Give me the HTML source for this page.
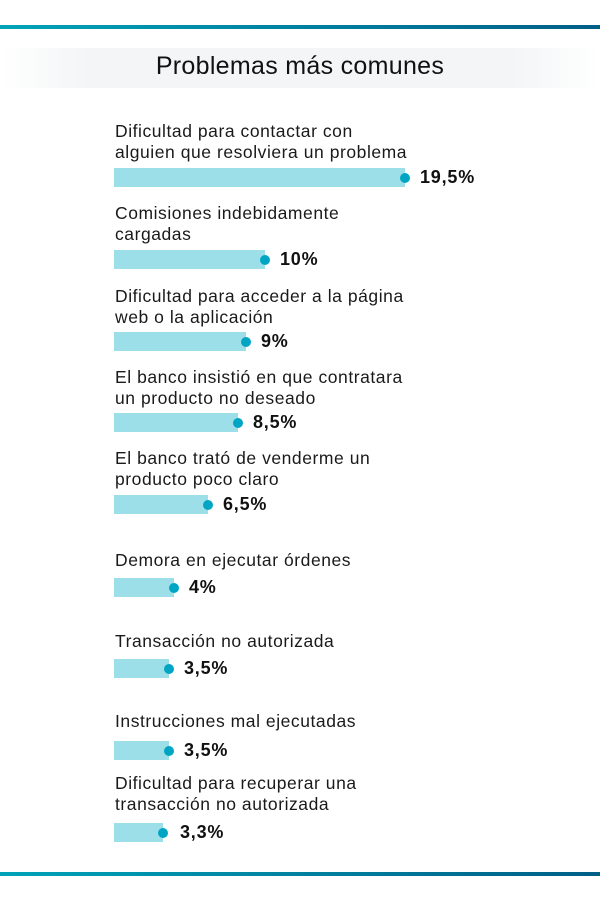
<!DOCTYPE html>
<html><head><meta charset="utf-8"><style>
body{margin:0;width:600px;height:901px;background:#fff;position:relative;overflow:hidden;font-family:"Liberation Sans",sans-serif;color:#111}
.line{position:absolute;left:0;width:600px;height:4px;background:linear-gradient(90deg,#00a3b8,#005f87)}
.band{position:absolute;left:0;top:48px;width:600px;height:40px;background:linear-gradient(90deg,#fff,#f3f5f6 15%,#f3f5f6 85%,#fff)}
.title{position:absolute;top:52px;width:600px;text-align:center;font-size:25px;color:#111;letter-spacing:0.3px}
.t{position:absolute;left:115px;font-size:17.5px;line-height:21px;color:#1a1a1a;white-space:nowrap;letter-spacing:0.55px}
.bar{position:absolute;left:114px;height:19px;background:#9ddfe9}
.dot{position:absolute;width:10px;height:10px;border-radius:50%;background:#00a5c4}
.v{position:absolute;font-weight:bold;font-size:18px;color:#111;letter-spacing:0.8px}
</style></head><body>
<div class="line" style="top:25px"></div>
<div class="line" style="top:872px"></div>
<div class="band"></div>
<div class="title">Problemas más comunes</div>

<div class="t" style="top:121px">Dificultad para contactar con<br>alguien que resolviera un problema</div>
<div class="bar" style="top:168px;width:291px"></div><div class="dot" style="left:400px;top:173px"></div><div class="v" style="left:420px;top:167px">19,5%</div>

<div class="t" style="top:203px">Comisiones indebidamente<br>cargadas</div>
<div class="bar" style="top:250px;width:151px"></div><div class="dot" style="left:260px;top:255px"></div><div class="v" style="left:280px;top:249px">10%</div>

<div class="t" style="top:286px">Dificultad para acceder a la página<br>web o la aplicación</div>
<div class="bar" style="top:332px;width:132px"></div><div class="dot" style="left:241px;top:337px"></div><div class="v" style="left:261px;top:331px">9%</div>

<div class="t" style="top:367px">El banco insistió en que contratara<br>un producto no deseado</div>
<div class="bar" style="top:413px;width:124px"></div><div class="dot" style="left:233px;top:418px"></div><div class="v" style="left:253px;top:412px">8,5%</div>

<div class="t" style="top:448px">El banco trató de venderme un<br>producto poco claro</div>
<div class="bar" style="top:495px;width:94px"></div><div class="dot" style="left:203px;top:500px"></div><div class="v" style="left:223px;top:494px">6,5%</div>

<div class="t" style="top:550px">Demora en ejecutar órdenes</div>
<div class="bar" style="top:578px;width:60px"></div><div class="dot" style="left:169px;top:583px"></div><div class="v" style="left:189px;top:577px">4%</div>

<div class="t" style="top:631px">Transacción no autorizada</div>
<div class="bar" style="top:659px;width:55px"></div><div class="dot" style="left:164px;top:664px"></div><div class="v" style="left:184px;top:658px">3,5%</div>

<div class="t" style="top:711px">Instrucciones mal ejecutadas</div>
<div class="bar" style="top:741px;width:55px"></div><div class="dot" style="left:164px;top:746px"></div><div class="v" style="left:184px;top:740px">3,5%</div>

<div class="t" style="top:773px">Dificultad para recuperar una<br>transacción no autorizada</div>
<div class="bar" style="top:823px;width:49px"></div><div class="dot" style="left:158px;top:828px"></div><div class="v" style="left:180px;top:822px">3,3%</div>
</body></html>
